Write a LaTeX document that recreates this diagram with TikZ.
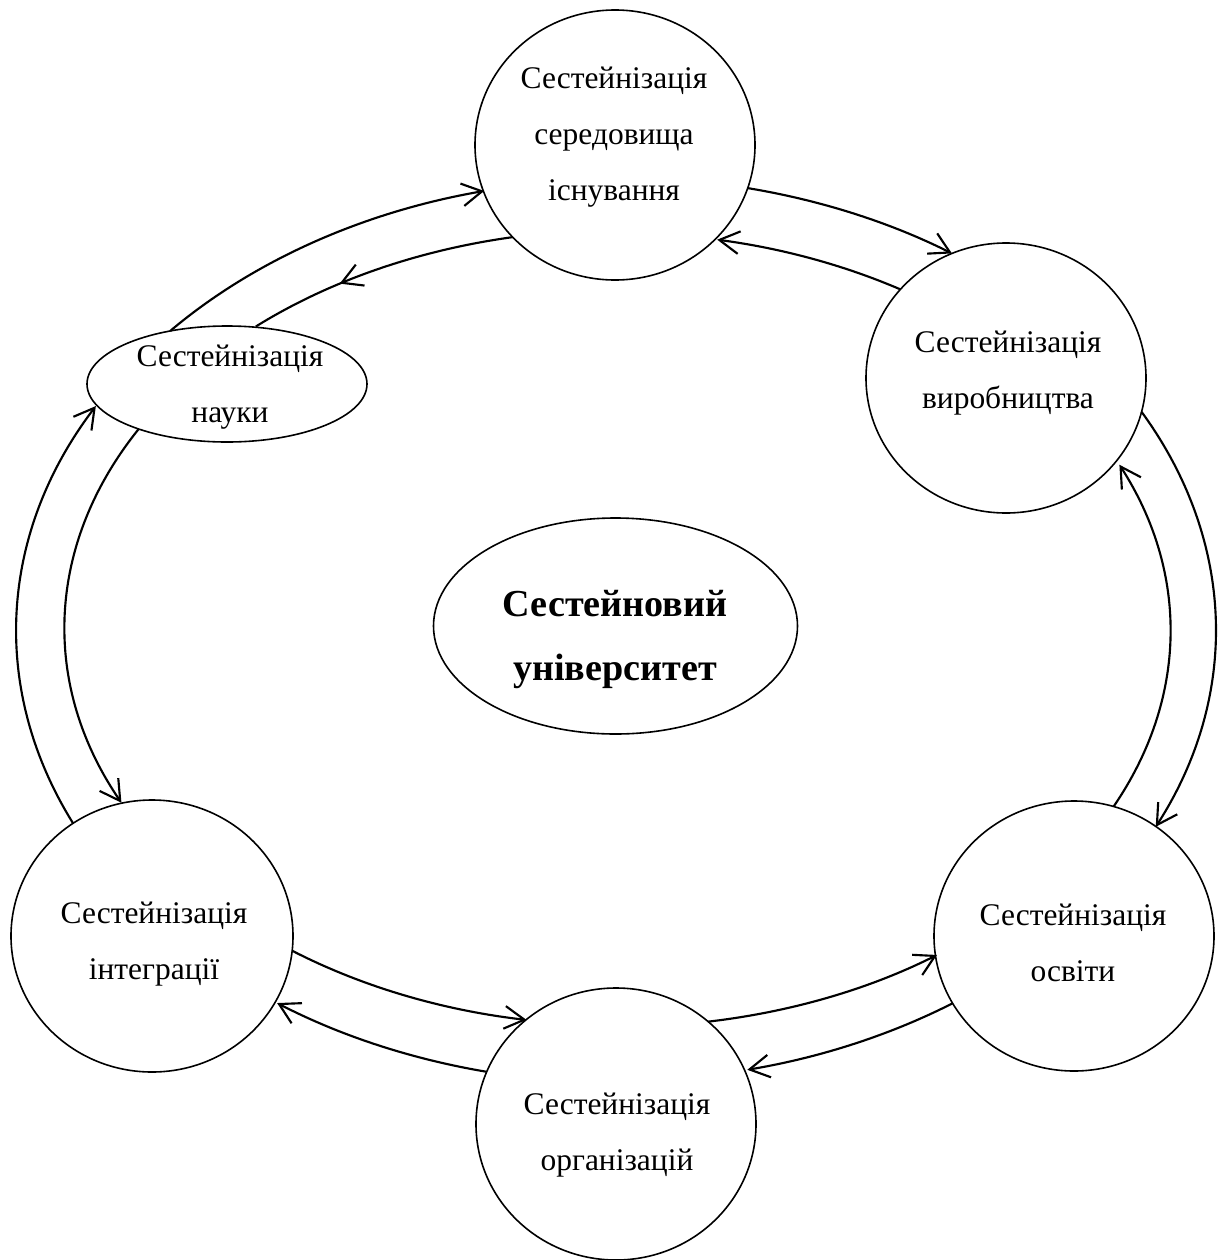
\documentclass[tikz,border=0pt]{standalone}
\usepackage{fontspec}
\setmainfont{Liberation Serif}
\usetikzlibrary{arrows.meta,decorations.markings,shapes.geometric}
\begin{document}
\begin{tikzpicture}[x=0.75pt,y=0.75pt,
  bub/.style={ellipse, draw, line width=1.2pt, inner sep=0pt, outer sep=0pt},
  lbl/.style={align=center, font=\fontsize{23.6pt}{42pt}\selectfont, inner sep=0pt},
  tipstyle/.style={-{Straight Barb[length=15pt,width=17pt]}},
  conn/.style={line width=1.6pt, tipstyle},
  midarrow/.style={line width=1.6pt, postaction={decorate},
    decoration={markings, mark=at position #1 with {\arrow{Straight Barb[length=15pt,width=17pt]}}}},
  outring/.style={x radius=451.5pt, y radius=339.75pt},
  inring/.style={x radius=414.75pt, y radius=297.75pt},
]
\useasboundingbox (0,0) rectangle (1220,-1260);

% shapes
\node[bub, minimum width=210pt, minimum height=202.5pt] (top) at (615,-145) {};
\node[bub, minimum width=210pt, minimum height=202.5pt] (prod) at (1006,-378) {};
\node[bub, minimum width=210pt, minimum height=87pt] (sci) at (227,-384) {};
\node[bub, minimum width=273pt, minimum height=162pt] (cen) at (615.5,-626) {};
\node[bub, minimum width=211.5pt, minimum height=204pt] (left) at (152,-936) {};
\node[bub, minimum width=210pt, minimum height=202.5pt] (edu) at (1074,-936) {};
\node[bub, minimum width=210pt, minimum height=204pt] (org) at (616,-1124) {};

% texts
\node[lbl] (topT) at (614,-137) {Сестейнізація\\середовища\\існування};
\node[lbl] (prodT) at (1008,-373) {Сестейнізація\\виробництва};
\node[lbl] (sciT) at (230,-387) {Сестейнізація\\науки};
\node[align=center, inner sep=0pt, font=\fontsize{28.6pt}{48pt}\selectfont\bfseries] (cenT) at (615,-639) {Сестейновий\\університет};
\node[lbl] (leftT) at (154,-944) {Сестейнізація\\інтеграції};
\node[lbl] (eduT) at (1073,-943) {Сестейнізація\\освіти};
\node[lbl] (orgT) at (617,-1135) {Сестейнізація\\організацій};

% connectors: arcs of two concentric ellipses
\draw[conn] (sci.137.9) arc[outring, start angle=138.3, end angle=103.0];
\draw[midarrow=0.656] (top.222.4) arc[inring, start angle=100.9, end angle=130.8];
\draw[conn] (top.342.1) arc[outring, start angle=77.6, end angle=56.35];
\draw[conn] (prod.140.3) arc[inring, start angle=59.1, end angle=79.5];
\draw[conn] (prod.-14.3) arc[outring, start angle=28.75, end angle=-25.8];
\draw[conn] (edu.73.8) arc[inring, start angle=-26.2, end angle=24.8];
\draw[conn] (left.125) arc[outring, start angle=205.1, end angle=150.2];
\draw[conn] (sci.207) arc[inring, start angle=150, end angle=206.2];
\draw[conn] (left.-6.9) arc[inring, start angle=234.4, end angle=260.9];
\draw[conn] (org.158) arc[outring, start angle=257.4, end angle=235.5];
\draw[conn] (org.48.9) arc[inring, start angle=279.2, end angle=305.0];
\draw[conn] (edu.209.5) arc[outring, start angle=304, end angle=282.6];
\end{tikzpicture}
\end{document}
